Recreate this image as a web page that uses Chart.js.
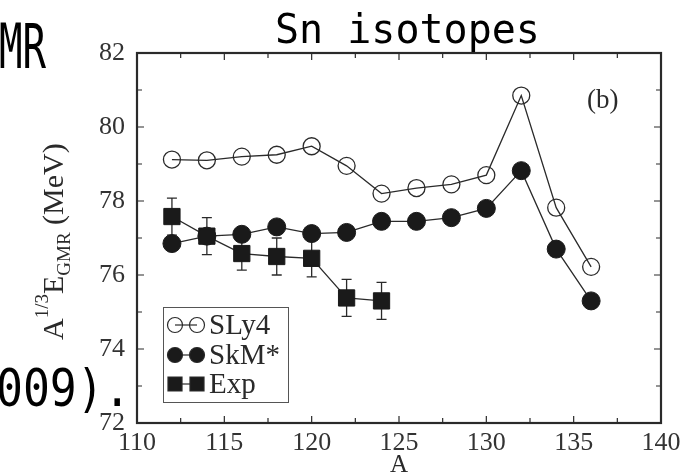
<!DOCTYPE html>
<html lang="en">
<head>
<meta charset="UTF-8">
<title>Sn isotopes GMR</title>
<script src="https://cdn.jsdelivr.net/npm/chart.js@4.4.0/dist/chart.umd.min.js"></script>
<style>
  html, body { margin: 0; padding: 0; background: #fff; }
</style>
</head>
<body>
<canvas id="myChart" width="694" height="474"></canvas>
<script>
// mass numbers and A^(1/3) * E_GMR values (MeV)
const massNumbers = [112, 114, 116, 118, 120, 122, 124, 126, 128, 130, 132, 134, 136];
const sly4 = [79.12, 79.1, 79.2, 79.25, 79.48, 78.95, 78.2, 78.35, 78.45, 78.7, 80.85, 77.82, 76.22];
const skmStar = [76.85, 77.05, 77.1, 77.3, 77.12, 77.15, 77.45, 77.45, 77.55, 77.8, 78.82, 76.7, 75.3];
const expMass = [112, 114, 116, 118, 120, 122, 124];
const expValues = [77.58, 77.05, 76.58, 76.5, 76.45, 75.38, 75.3];
const expErrors = [0.5, 0.5, 0.45, 0.5, 0.5, 0.5, 0.5];
const seriesLabels = ['SLy4', 'SkM*', 'Exp'];
const xRange = [110, 140];
const yRange = [72, 82];

const ink = '#2a2a2a';

function pts(xs, ys) {
    return xs.map((x, i) => ({x: x, y: ys[i]}));
}

// inward ticks, frame, error bars and all the loose text
const decorations = {
    id: 'decorations',
    beforeDatasetsDraw(chart) {
        const ctx = chart.ctx, xs = chart.scales.x, ys = chart.scales.y;
        ctx.save();
        ctx.strokeStyle = ink;
        ctx.lineWidth = 1.3;
        expMass.forEach((m, i) => {
            const px = xs.getPixelForValue(m);
            const top = ys.getPixelForValue(expValues[i] + expErrors[i]);
            const bot = ys.getPixelForValue(expValues[i] - expErrors[i]);
            ctx.beginPath();
            ctx.moveTo(px, top); ctx.lineTo(px, bot);
            ctx.moveTo(px - 5, top); ctx.lineTo(px + 5, top);
            ctx.moveTo(px - 5, bot); ctx.lineTo(px + 5, bot);
            ctx.stroke();
        });
        ctx.restore();
    },
    afterDraw(chart) {
        const ctx = chart.ctx, a = chart.chartArea;
        const xs = chart.scales.x, ys = chart.scales.y;
        ctx.save();
        ctx.strokeStyle = ink;

        // ticks pointing into the plot, on all four sides
        ctx.lineWidth = 1.2;
        xs.ticks.forEach(t => {
            const px = xs.getPixelForValue(t.value);
            const len = t.value % 5 === 0 ? 7 : 5;
            ctx.beginPath();
            ctx.moveTo(px, a.bottom); ctx.lineTo(px, a.bottom - len);
            ctx.moveTo(px, a.top); ctx.lineTo(px, a.top + len);
            ctx.stroke();
        });
        ys.ticks.forEach(t => {
            const py = ys.getPixelForValue(t.value);
            const len = t.value % 2 === 0 ? 7 : 5;
            ctx.beginPath();
            ctx.moveTo(a.left, py); ctx.lineTo(a.left + len, py);
            ctx.moveTo(a.right, py); ctx.lineTo(a.right - len, py);
            ctx.stroke();
        });

        // frame
        ctx.lineWidth = 2.2;
        ctx.strokeRect(a.left, a.top, a.right - a.left, a.bottom - a.top);

        // legend box
        ctx.lineWidth = 1;
        ctx.strokeStyle = '#555';
        ctx.strokeRect(163.5, 307.5, 125, 95);
        const rows = [325, 355, 384];
        chart.data.datasets.forEach((ds, i) => {
            const y = rows[i];
            ctx.strokeStyle = ink;
            ctx.fillStyle = ds.pointBackgroundColor;
            ctx.lineWidth = 1.2;
            ctx.beginPath();
            ctx.moveTo(175, y); ctx.lineTo(197, y);
            ctx.stroke();
            [175, 197].forEach(cx => {
                ctx.beginPath();
                if (ds.pointStyle === 'rect') {
                    ctx.rect(cx - 7, y - 7, 14, 14);
                } else {
                    ctx.arc(cx, y, 7.5, 0, Math.PI * 2);
                }
                ctx.fill();
                ctx.stroke();
            });
            ctx.fillStyle = ink;
            ctx.font = '29px "Liberation Serif"';
            ctx.textBaseline = 'middle';
            ctx.textAlign = 'left';
            ctx.fillText(ds.label, 209, y + 1);
        });

        // panel tag
        ctx.fillStyle = ink;
        ctx.font = '27px "Liberation Serif"';
        ctx.textBaseline = 'alphabetic';
        ctx.fillText('(b)', 587, 108);

        // x axis title
        ctx.textAlign = 'center';
        ctx.font = '25px "Liberation Serif"';
        ctx.fillText('A', (a.left + a.right) / 2, 472);

        // y axis title with super/subscripts
        ctx.save();
        ctx.translate(63, 340);
        ctx.rotate(-Math.PI / 2);
        ctx.textAlign = 'left';
        let x = 0;
        const part = (txt, size, dy) => {
            ctx.font = size + 'px "Liberation Serif"';
            ctx.fillText(txt, x, dy);
            x += ctx.measureText(txt).width;
        };
        part('A', 30, 0);
        part('1/3', 19, -15);
        part('E', 30, 0);
        part('GMR', 19, 7);
        part(' (MeV)', 30, 0);
        ctx.restore();

        // chart title
        ctx.font = '40px "DejaVu Sans Mono"';
        ctx.textAlign = 'left';
        ctx.fillStyle = '#000';
        ctx.fillText('Sn isotopes', 275, 43);

        // fragments of the surrounding page text
        ctx.save();
        ctx.translate(-1, 68);
        ctx.scale(0.62, 1);
        ctx.font = '63px "DejaVu Sans Mono"';
        ctx.fillText('MR', 0, 0);
        ctx.restore();
        ctx.save();
        ctx.translate(-4, 406);
        ctx.scale(0.86, 1);
        ctx.font = '52px "DejaVu Sans Mono"';
        ctx.fillText('009).', 0, 0);
        ctx.restore();

        ctx.restore();
    }
};

const ctx = document.getElementById('myChart').getContext('2d');
const chart = new Chart(ctx, {
    type: 'scatter',
    data: {
        datasets: [{
            label: seriesLabels[0],
            data: pts(massNumbers, sly4),
            showLine: true,
            borderColor: ink,
            borderWidth: 1.3,
            pointStyle: 'circle',
            pointRadius: 8.5,
            pointBorderWidth: 1.3,
            pointBorderColor: ink,
            pointBackgroundColor: 'rgba(255,255,255,0)'
        }, {
            label: seriesLabels[1],
            data: pts(massNumbers, skmStar),
            showLine: true,
            borderColor: ink,
            borderWidth: 1.3,
            pointStyle: 'circle',
            pointRadius: 9,
            pointBorderWidth: 1,
            pointBorderColor: '#1a1a1a',
            pointBackgroundColor: '#1a1a1a'
        }, {
            label: seriesLabels[2],
            data: pts(expMass, expValues),
            showLine: true,
            borderColor: ink,
            borderWidth: 1.3,
            pointStyle: 'rect',
            pointRadius: 11.5,
            pointBorderWidth: 1,
            pointBorderColor: '#1a1a1a',
            pointBackgroundColor: '#1a1a1a'
        }]
    },
    options: {
        responsive: false,
        animation: false,
        events: [],
        layout: { padding: { left: 0, top: 53, right: 33, bottom: 0 } },
        plugins: {
            legend: { display: false },
            tooltip: { enabled: false }
        },
        scales: {
            x: {
                type: 'linear',
                min: xRange[0],
                max: xRange[1],
                afterFit: s => { s.height = 51; },
                grid: { display: false },
                border: { display: false },
                ticks: {
                    stepSize: 2.5,
                    autoSkip: false,
                    maxRotation: 0,
                    padding: -3,
                    color: '#333',
                    font: { family: 'Liberation Serif', size: 26 },
                    callback: v => v % 5 === 0 ? v : ''
                }
            },
            y: {
                type: 'linear',
                min: yRange[0],
                max: yRange[1],
                afterFit: s => { s.width = 137; },
                grid: { display: false },
                border: { display: false },
                ticks: {
                    stepSize: 1,
                    padding: 4,
                    color: '#333',
                    font: { family: 'Liberation Serif', size: 26 },
                    callback: v => v % 2 === 0 ? v : ''
                }
            }
        }
    },
    plugins: [decorations]
});
</script>
</body>
</html>
